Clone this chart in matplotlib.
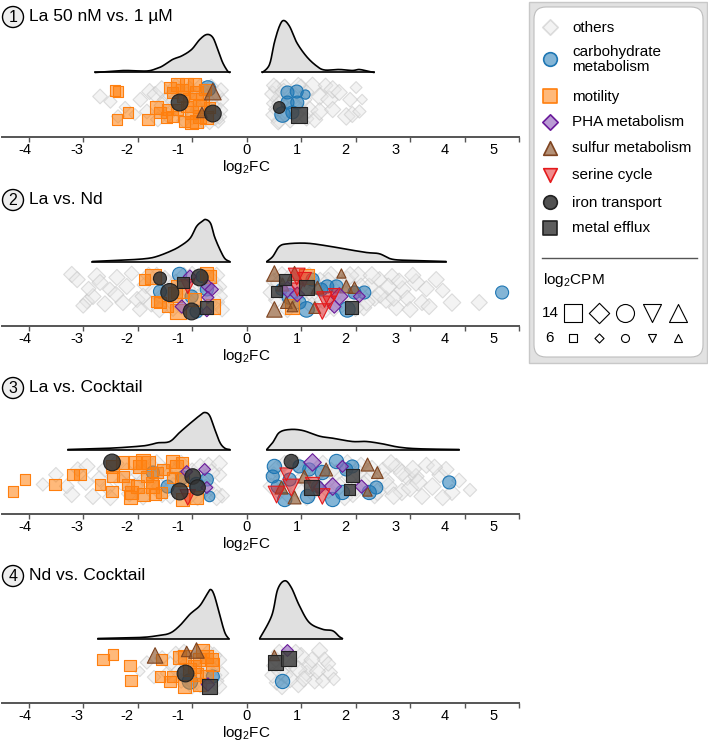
import numpy as np
import matplotlib
matplotlib.use('Agg')
import matplotlib.pyplot as plt
from matplotlib.patches import FancyBboxPatch, Rectangle, Circle

plt.rcParams['font.family'] = ['Liberation Sans', 'DejaVu Sans']
plt.rcParams['mathtext.default'] = 'regular'

# ---------------- data ----------------
TITLES = ['La 50 nM vs. 1 µM', 'La vs. Nd', 'La vs. Cocktail', 'Nd vs. Cocktail']
TICK_VALUES = [-4, -3, -2, -1, 0, 1, 2, 3, 4, 5]
TICK_LABELS = ['-4', '-3', '-2', '-1', '0', '1', '2', '3', '4', '5']
TICK_LABEL_POS = [-4.07, -3.11, -2.20, -1.26, 0.0, 0.92, 1.81, 2.73, 3.63, 4.54]
CATEGORIES = ['others', 'carbohydrate\nmetabolism', 'motility', 'PHA metabolism',
              'sulfur metabolism', 'serine cycle', 'iron transport', 'metal efflux']
SIZE_LEGEND = [14, 6]

# density curves (x = log2FC, y = relative density)
D1N_X = [-2.78, -2.38, -2.20, -1.83, -1.65, -1.54, -1.36, -1.19, -1.01, -0.86, -0.73, -0.62, -0.53, -0.44, -0.35, -0.31]
D1N_Y = [0, 1.6, 2, 1.5, 4, 6.6, 13, 16.6, 23, 33, 38, 35, 23, 10, 1.5, 0]
D1P_X = [0.29, 0.42, 0.51, 0.60, 0.68, 0.79, 0.92, 1.10, 1.28, 1.43, 1.70, 1.94, 2.07, 2.25, 2.34]
D1P_Y = [0, 8, 30, 46, 52, 46, 30, 16, 6.7, 2.5, 3, 2, 3, 1, 0]
D2N_X = [-2.83, -2.14, -1.83, -1.65, -1.41, -1.23, -1.04, -0.92, -0.82, -0.75, -0.66, -0.59, -0.49, -0.40, -0.31]
D2N_Y = [0, 1.7, 3, 5, 10, 15, 23, 35, 40, 42, 38, 25, 12, 3, 0]
D2P_X = [0.37, 0.48, 0.60, 0.75, 1.10, 1.47, 1.83, 2.20, 2.44, 2.67, 3.04, 3.66]
D2P_Y = [0, 5, 15, 17.7, 18.3, 15.7, 12.3, 9, 7.7, 2.3, 1, 0]
D3N_X = [-3.28, -2.51, -1.96, -1.78, -1.63, -1.41, -1.23, -1.04, -0.86, -0.77, -0.68, -0.59, -0.49, -0.40, -0.31]
D3N_Y = [0, 1.3, 3.3, 4.7, 6.7, 8, 17, 26, 34, 37, 34, 21, 7, 1.3, 0]
D3P_X = [0.37, 0.48, 0.60, 0.79, 1.03, 1.34, 1.58, 1.94, 2.20, 2.49, 2.80, 3.17, 3.90]
D3P_Y = [0, 7, 17, 20, 19, 13.3, 11.3, 8, 8, 5.7, 2.3, 0.7, 0]
D4N_X = [-2.73, -1.96, -1.65, -1.41, -1.23, -1.04, -0.86, -0.73, -0.66, -0.59, -0.49, -0.40, -0.33]
D4N_Y = [0, 1, 2.7, 5.3, 12.7, 24.3, 32.7, 44, 49, 42.7, 22.7, 6, 0]
D4P_X = [0.24, 0.46, 0.57, 0.70, 0.82, 0.97, 1.15, 1.39, 1.58, 1.70, 1.76]
D4P_Y = [0, 22.7, 49, 57.7, 51, 32.7, 16, 9.3, 7.7, 2, 0]

# genes: (log2FC, jitter, log2CPM)
OTH1 = [(-2.69,0.37,10),(-2.36,-0.68,9),(-2.05,-0.58,8),(-2.23,-0.20,8),(-1.83,-0.42,10),(-1.78,0.63,11),(-1.68,0.47,11),(-1.56,0.74,12),(-1.63,-0.84,10),(-1.50,0.20,10),(-1.40,0.40,10),(-1.30,0.90,11),(-1.20,-0.50,10),(-1.15,-0.90,10),(-1.05,0.80,10),(-0.95,0.30,11),(-0.90,-0.30,10),(-0.80,-0.90,11),(-0.75,0.60,11),(-0.70,0.10,12),(-0.65,0.90,10),(-0.60,-0.20,11),(-0.55,0.50,10),(-0.52,-0.95,9),(-0.50,-0.70,10),(-0.45,0.20,9),
        (-1.45,-0.60,11),(-1.35,0.10,11),(-1.25,0.60,12),(-1.10,0.45,11),(-1.00,-0.70,11),(-0.85,0.85,12),(-0.85,-0.45,12),(-0.72,-0.55,12),(-0.62,0.35,12),(-0.58,-0.75,11),(-0.48,-0.35,10),(-0.47,0.70,10),(-0.68,-0.95,11),(-1.55,-0.10,11),(-2.50,0.10,9),(-1.95,0.20,10),
        (0.50,0.00,10),(0.55,0.80,11),(0.55,-0.30,11),(0.60,0.30,11),(0.60,-0.90,11),(0.70,0.90,10),(0.80,-0.90,10),(1.00,0.90,10),(1.00,-0.30,10),(1.10,-0.80,10),(1.15,-0.32,12),(1.21,0.89,13),(1.25,-0.85,11),(1.34,0.37,12),(1.34,-0.42,12),(1.45,0.95,10),(1.52,0.21,12),(1.58,0.74,12),(1.58,-0.32,11),(1.70,0.58,11),(1.83,-0.68,12),(1.90,0.20,10),(1.94,-0.58,11),(2.01,0.84,8),(2.07,-0.42,9),(2.12,0.21,7),
        (0.48,0.50,11),(0.50,-0.60,11),(0.62,0.00,12),(0.68,0.60,12),(0.70,-0.55,12),(0.85,0.30,12),(0.90,-0.60,11),(0.95,0.95,11),(1.05,0.20,11),(1.10,0.60,10),(0.50,0.95,10),(0.58,-1.00,10),(0.88,-0.10,12)]
CARB1 = [(-0.71,0.79,12),(0.75,0.58,10),(0.92,0.63,10),(1.08,0.47,7),(0.75,0.05,10),(0.93,0.05,10),(0.66,-0.58,12),(0.84,-0.47,10)]
MOT1 = [(-2.42,0.68,8),(-2.36,0.63,8),(-2.38,-0.84,8),(-2.18,-0.47,8),(-1.81,-0.84,9),(-1.65,-0.21,10),(-1.59,-0.47,9),(-1.47,-0.74,9),(-1.41,0.84,9),(-1.36,0.58,9),(-1.26,1.0,10),(-1.19,0.74,9),(-1.10,1.0,10),(-0.95,1.0,10),(-0.92,0.58,10),(-1.04,0.21,10),(-1.10,-0.16,9),(-1.01,-0.47,10),(-0.86,-0.68,10),(-0.92,-0.95,10),(-0.81,0.21,10),(-1.28,-0.32,9),(-1.45,-0.32,9),(-1.36,-0.68,9),(-0.86,-0.16,10),(-0.73,-0.74,10),(-1.14,-0.95,9),(-1.01,-1.0,10),(-0.77,0.74,9),(-0.68,-0.21,9),(-1.17,0.37,9)]
PHA1 = []
SULF1 = [(-0.62,0.63,13),(-0.82,-0.47,8)]
SER1 = []
IRON1 = [(-1.23,0.05,13),(-0.62,-0.53,13),(0.60,-0.21,9)]
METAL1 = [(0.97,-0.58,12)]

OTH2 = [(-3.21,0.95,11),(-3.11,0.68,11),(-2.93,-0.47,10),(-2.82,-0.21,11),(-2.75,0.84,12),(-2.69,0.53,11),(-2.38,0.79,11),(-2.51,0.16,10),(-2.20,0.32,11),(-2.01,-0.37,11),(-1.96,-0.89,10),(-2.27,-0.53,11),(-2.11,1.0,10),(-1.85,0.40,12),(-1.75,-0.60,11),(-1.65,0.90,11),(-1.55,-0.20,12),(-1.45,0.50,11),(-1.35,-0.80,12),(-1.25,0.20,11),(-1.15,0.90,11),(-1.05,-0.50,12),(-0.95,0.40,11),(-0.85,-0.90,11),(-0.75,0.00,12),(-0.65,0.70,11),(-0.55,-0.50,11),(-0.50,0.30,10),(-0.45,-0.90,10),
        (-1.90,-0.20,11),(-1.80,0.90,11),(-1.70,0.10,12),(-1.60,-0.90,11),(-1.50,0.70,12),(-1.40,-0.40,12),(-1.30,0.50,12),(-1.20,-0.70,12),(-1.10,0.20,12),(-1.00,0.95,11),(-0.90,-0.30,12),(-0.80,0.50,12),(-0.70,-0.60,12),(-0.60,0.20,12),(-0.55,0.90,11),(-0.50,-0.20,11),(-2.60,-0.60,11),(-2.40,-0.10,11),(-2.90,0.20,10),(-3.00,-0.70,10),
        (0.50,0.60,11),(0.55,-0.40,11),(0.65,0.90,12),(0.75,-0.90,11),(0.90,0.30,12),(1.00,-0.40,11),(1.15,0.90,11),(1.25,-0.20,12),(1.35,0.60,12),(1.45,-0.90,11),(1.55,0.95,11),(1.65,0.00,12),(1.75,-0.60,12),(1.85,0.70,11),(1.95,-0.30,12),(2.05,0.90,12),(2.15,-0.80,11),(2.25,0.30,12),(2.35,-0.30,11),(2.44,0.68,11),(2.56,-0.37,12),(2.67,0.84,11),(2.75,-0.80,11),(2.86,0.16,12),(2.95,-0.30,11),(3.11,0.53,12),(3.22,-0.53,11),(3.35,-0.74,11),(3.48,0.68,11),(3.60,0.10,10),(3.77,-0.53,12),(4.27,-0.53,11),
        (0.45,0.00,11),(0.60,0.50,12),(0.70,-0.10,12),(0.80,0.80,12),(0.85,-0.50,12),(1.05,0.10,12),(1.10,0.60,12),(1.20,-0.70,12),(1.30,0.30,12),(1.40,-0.40,12),(1.50,0.60,12),(1.60,-0.80,12),(1.70,0.40,12),(1.80,-0.10,12),(1.90,0.90,12),(2.00,-0.80,12),(2.10,0.30,12),(2.20,-0.50,12),(2.30,0.90,12),(2.45,-0.10,12),(2.60,0.30,12),(2.70,-0.30,11),(2.80,0.60,11),(3.00,-0.90,11),(3.05,0.90,11),(3.30,0.20,11)]
CARB2 = [(-1.59,0.05,10),(-1.23,0.95,11),(-1.01,-0.21,10),(-0.82,0.84,9),(-0.73,0.16,10),(-0.92,-1.0,10),(0.79,-0.21,12),(0.97,-0.53,10),(1.10,-0.89,12),(1.37,0.16,10),(1.48,0.32,10),(1.65,0.32,10),(1.85,-0.89,12),(1.98,0.0,10),(2.16,0.0,10),(1.21,0.68,10),(4.69,0.0,10),(0.64,0.16,9)]
MOT2 = [(-1.87,0.68,8),(-1.72,0.84,12),(-1.65,-0.47,8),(-1.59,-0.53,9),(-1.45,-0.74,9),(-1.26,-1.0,12),(-0.73,1.0,10),(-0.68,0.84,10),(-0.62,-0.74,11),(-1.23,0.16,14),(-1.32,-0.10,11),(-0.95,-0.37,10),(0.84,-0.74,11),(1.10,0.84,11)]
PHA2 = [(-1.04,0.84,9),(-0.71,0.32,9),(-0.64,0.16,9),(-0.71,-0.26,8),(-1.19,-0.74,9),(-0.73,-1.0,7),(0.75,0.16,11),(0.93,-0.10,10),(1.70,-0.21,12),(1.61,-0.74,9),(2.07,-0.21,8)]
SULF2 = [(0.51,1.0,12),(0.88,1.0,11),(0.51,-0.89,12),(0.73,-0.53,9),(0.84,-0.74,8),(1.30,0.26,10),(1.25,-0.79,9),(1.74,1.0,7),(1.83,0.32,10),(1.98,0.26,9),(0.66,0.42,10)]
SER2 = [(-1.08,0.32,11),(0.92,0.84,13),(1.06,0.68,11),(0.93,0.16,10),(1.43,-0.37,12),(1.39,-1.0,12),(1.52,-0.53,10),(1.61,-0.10,9)]
IRON2 = [(-1.41,0.0,14),(-0.86,0.79,13),(-1.01,-1.0,13),(-1.59,0.74,10)]
METAL2 = [(-0.73,-0.79,10),(0.55,0.05,9),(0.70,0.68,9),(1.10,0.26,12),(1.92,-0.79,10),(-1.17,0.53,9)]

OTH3 = [(-3.74,-0.21,9),(-3.50,0.30,10),(-3.21,-0.74,11),(-3.10,0.60,10),(-2.93,0.74,11),(-2.82,-0.84,11),(-2.70,0.10,11),(-2.55,-0.40,10),(-2.40,0.90,11),(-2.30,-0.10,11),(-2.15,-0.70,11),(-2.00,0.40,11),(-1.90,-0.90,10),(-1.75,0.80,11),(-1.60,-0.30,11),(-1.50,0.50,11),(-1.40,-0.80,11),(-1.30,0.10,12),(-1.20,0.90,11),(-1.10,-0.40,12),(-1.00,0.50,11),(-0.90,-0.90,11),(-0.80,0.10,12),(-0.70,0.80,11),(-0.60,-0.50,11),(-0.50,0.30,10),(-0.45,-0.80,10),
        (-3.30,-0.30,10),(-2.95,-0.10,11),(-2.60,0.60,11),(-2.50,-0.90,11),(-2.20,0.50,11),(-2.05,-0.30,11),(-1.85,0.10,12),(-1.65,0.90,12),(-1.55,-0.70,12),(-1.45,0.20,12),(-1.35,-0.30,12),(-1.25,0.60,12),(-1.05,-0.80,12),(-0.95,0.20,12),(-0.85,0.70,12),(-0.75,-0.40,12),(-0.65,0.40,12),(-0.55,-0.90,11),(-0.50,0.90,11),
        (0.50,0.30,11),(0.60,-0.60,11),(0.70,0.90,11),(0.85,-0.20,12),(1.00,0.60,11),(1.10,-0.90,11),(1.25,0.20,12),(1.40,0.90,11),(1.50,-0.50,12),(1.65,0.40,12),(1.80,-0.90,11),(1.90,0.20,12),(2.00,-0.40,12),(2.10,0.80,11),(2.25,0.10,12),(2.35,-0.80,11),(2.50,0.50,12),(2.60,-0.30,12),(2.75,0.74,11),(2.85,-0.60,12),(2.95,0.20,12),(3.11,0.21,11),(3.22,-0.84,11),(3.30,0.80,11),(3.41,-0.32,12),(3.55,0.30,11),(3.66,0.58,11),(3.77,-0.63,11),(3.90,0.00,10),(4.10,-0.50,9),
        (0.45,-0.30,11),(0.55,0.60,12),(0.65,0.10,12),(0.75,-0.70,12),(0.90,0.90,12),(0.95,-0.50,12),(1.05,0.20,12),(1.20,-0.60,12),(1.30,0.60,12),(1.45,-0.10,12),(1.55,0.50,12),(1.70,-0.30,12),(1.85,0.90,12),(1.95,-0.70,12),(2.05,0.40,12),(2.15,-0.20,12),(2.30,0.60,12),(2.40,-0.60,12),(2.55,0.00,12),(2.65,0.90,12),(2.70,-0.80,12),(2.85,0.40,12),(3.00,-0.40,12),(3.05,0.60,12),(3.15,-0.10,12),(3.45,0.70,11),(3.60,-0.90,11)]
CARB3 = [(-1.72,0.42,10),(-1.45,-0.32,10),(-1.17,0.16,10),(-0.68,-0.84,8),(-0.73,0.05,10),(-0.92,-0.21,11),(0.51,0.74,11),(0.48,0.21,10),(0.57,-0.32,10),(0.70,-1.0,11),(0.97,0.74,10),(1.15,0.58,10),(1.12,-0.84,11),(1.39,0.42,11),(1.65,1.0,11),(1.83,0.58,10),(1.58,-1.0,11),(1.76,-0.63,11),(2.25,-0.63,11),(2.38,-0.37,10),(3.72,-0.10,10),(1.94,0.74,10),(0.79,0.05,10),(1.30,-0.32,9)]
MOT3 = [(-4.29,-0.58,8),(-4.07,0.05,8),(-3.52,-0.21,9),(-3.19,0.32,9),(-3.06,0.32,9),(-2.69,-0.21,8),(-2.47,0.74,10),(-2.45,0.21,9),(-2.47,-0.58,9),(-2.27,0.95,10),(-2.27,0.21,9),(-2.18,-0.21,9),(-2.11,-0.63,10),(-2.14,-0.89,10),(-2.05,0.95,10),(-1.96,0.74,10),(-1.90,1.0,11),(-1.81,0.95,10),(-2.01,-0.32,10),(-1.90,-0.74,10),(-1.83,0.21,9),(-1.72,-0.32,10),(-1.68,-0.74,9),(-1.65,0.42,9),(-1.56,-0.63,9),(-1.36,1.0,10),(-1.28,0.74,10),(-1.19,0.95,9),(-1.36,0.16,9),(-1.19,0.05,10),(-1.17,-1.0,10),(-1.54,0.58,9),(-1.74,-0.10,9),(-0.92,-0.89,10)]
PHA3 = [(-1.10,0.47,8),(-0.77,0.58,8),(-0.73,-0.37,8),(1.21,0.95,12),(1.76,0.74,8),(1.58,-0.32,12),(1.34,-0.37,9),(2.11,-0.32,9)]
SULF3 = [(1.46,0.58,10),(1.06,0.21,10),(2.22,0.84,10),(2.40,0.42,9),(0.64,-0.37,10),(0.88,-0.89,10),(2.22,-0.58,7)]
SER3 = [(-1.08,-0.89,12),(0.55,-0.74,13),(0.73,0.32,10),(0.82,-0.37,13),(1.21,-0.21,11),(1.39,-0.84,12)]
IRON3 = [(-2.47,0.95,13),(-0.99,0.21,12),(-1.23,-0.58,13),(-0.90,-0.37,12),(0.82,1.0,11)]
METAL3 = [(1.94,0.26,10),(1.19,-0.37,11),(1.89,-0.47,9)]

OTH4 = [(-1.96,-0.10,7),(-1.83,0.37,9),(-1.70,-0.40,9),(-1.55,0.60,10),(-1.45,-0.20,10),(-1.30,0.80,11),(-1.20,-0.60,10),(-1.10,0.30,11),(-1.00,-0.90,10),(-0.90,0.60,11),(-0.80,-0.30,11),(-0.70,0.90,11),(-0.65,0.10,11),(-0.55,-0.60,10),(-0.50,0.50,10),(-0.45,-0.20,9),
        (-1.40,0.30,10),(-1.25,-0.10,11),(-1.15,0.90,11),(-1.05,-0.50,11),(-0.95,0.50,11),(-0.85,-0.80,11),(-0.75,0.20,11),(-0.60,0.75,11),(-0.60,-0.30,11),(-0.50,-0.90,10),
        (0.50,0.20,10),(0.55,-0.70,10),(0.60,0.90,11),(0.70,-0.30,11),(0.85,0.30,11),(0.95,-0.80,11),(1.00,0.70,12),(1.10,-0.20,11),(1.15,0.16,11),(1.25,-0.60,11),(1.34,1.0,11),(1.43,0.53,10),(1.52,-0.16,11),(1.60,-0.50,9),
        (0.48,-0.30,11),(0.55,0.50,11),(0.62,-0.10,12),(0.65,-0.90,11),(0.75,0.40,11),(0.80,-0.50,12),(0.90,0.90,11),(0.95,0.00,12),(1.05,-0.50,11),(1.20,0.50,11),(1.30,-0.10,11),(1.40,-0.60,10),(1.50,0.30,10)]
CARB4 = [(-1.04,-0.63,12),(-0.62,-0.37,10),(0.66,-0.63,11)]
MOT4 = [(-2.64,0.53,9),(-2.45,0.79,8),(-2.14,0.21,9),(-2.12,-0.58,9),(-1.56,0.53,9),(-1.59,-0.37,8),(-1.41,-0.63,9),(-1.36,-0.37,9),(-1.23,0.63,10),(-1.14,0.68,10),(-0.95,0.16,10),(-0.86,0.53,10),(-0.73,0.68,10),(-0.64,0.53,10),(-0.92,-0.26,10),(-0.86,-0.79,10),(-1.14,-0.89,10),(-0.73,-0.37,10),(-0.62,0.26,10),(-1.04,0.0,10),(-0.81,1.0,10)]
PHA4 = [(-0.71,-0.79,9),(0.75,1.0,8)]
SULF4 = [(-1.68,0.74,12),(-1.10,0.95,8),(-0.92,1.0,12),(0.51,0.74,8)]
SER4 = []
IRON4 = [(-1.14,-0.16,13)]
METAL4 = [(-0.68,-0.89,12),(0.53,0.37,11),(0.77,0.58,11)]

# ---------------- styles / layout ----------------
STYLES = [
    dict(marker='D', fc=(0.90, 0.90, 0.90, 0.45), ec=(0.78, 0.78, 0.78, 0.6), z=2),
    dict(marker='o', fc=(0.12, 0.47, 0.71, 0.55), ec='#1f77b4', z=3),
    dict(marker='s', fc=(1.0, 0.50, 0.05, 0.55), ec='#ff7f0e', z=3.1),
    dict(marker='D', fc=(0.58, 0.40, 0.74, 0.65), ec='#6a1b9a', z=3.5),
    dict(marker='^', fc=(0.55, 0.34, 0.18, 0.65), ec='#7f4420', z=3.4),
    dict(marker='v', fc=(0.89, 0.10, 0.11, 0.5), ec='#e41a1c', z=3.6),
    dict(marker='o', fc=(0.2, 0.2, 0.2, 0.85), ec='#222222', z=3.7),
    dict(marker='s', fc=(0.25, 0.25, 0.25, 0.85), ec='#222222', z=3.8),
]
PANEL_DATA = [
    [OTH1, CARB1, MOT1, PHA1, SULF1, SER1, IRON1, METAL1],
    [OTH2, CARB2, MOT2, PHA2, SULF2, SER2, IRON2, METAL2],
    [OTH3, CARB3, MOT3, PHA3, SULF3, SER3, IRON3, METAL3],
    [OTH4, CARB4, MOT4, PHA4, SULF4, SER4, IRON4, METAL4],
]
DENS = [((D1N_X, D1N_Y), (D1P_X, D1P_Y)), ((D2N_X, D2N_Y), (D2P_X, D2P_Y)),
        ((D3N_X, D3N_Y), (D3P_X, D3P_Y)), ((D4N_X, D4N_Y), (D4P_X, D4P_Y))]

W, H = 708, 742
AXIS_PX = [137, 326, 514, 703]
TITLE_PX = [17, 200, 388, 576]
AX_L, AX_R, AX_H = 2, 519, 130
XLIM = (-4.49, 5.0)
PT_C, PT_HALF = 33.5, 19
DENS_BASE = 64.5


def size_px(cpm):
    return 8 + (np.asarray(cpm, float) - 6) * 10 / 8


def marker_area(marker, cpm):
    pt = size_px(cpm) * 0.72
    if marker == 'D':
        pt = pt * 0.8
    return pt ** 2


def catmull(xs, ys, n=12):
    xs = np.asarray(xs, float); ys = np.asarray(ys, float)
    P = np.column_stack([xs, ys])
    P = np.vstack([P[0], P, P[-1]])
    out = []
    for i in range(1, len(P) - 2):
        p0, p1, p2, p3 = P[i - 1], P[i], P[i + 1], P[i + 2]
        t = np.linspace(0, 1, n, endpoint=False)[:, None]
        pts = 0.5 * ((2 * p1) + (-p0 + p2) * t + (2 * p0 - 5 * p1 + 4 * p2 - p3) * t ** 2
                     + (-p0 + 3 * p1 - 3 * p2 + p3) * t ** 3)
        out.append(pts)
    out.append(P[-2][None, :])
    out = np.vstack(out)
    out[:, 1] = np.clip(out[:, 1], 0, None)
    return out[:, 0], out[:, 1]


fig = plt.figure(figsize=(W / 100, H / 100), dpi=100)

# overlay axes in pixel coordinates
ov = fig.add_axes([0, 0, 1, 1])
ov.set_xlim(0, W); ov.set_ylim(H, 0); ov.axis('off'); ov.patch.set_visible(False)

for p in range(4):
    ax = fig.add_axes([AX_L / W, 1 - AXIS_PX[p] / H, (AX_R - AX_L) / W, AX_H / H])
    ax.patch.set_visible(False)
    ax.set_xlim(*XLIM); ax.set_ylim(0, AX_H)
    for s in ['left', 'right', 'top']:
        ax.spines[s].set_visible(False)
    ax.spines['bottom'].set_color('#555555'); ax.spines['bottom'].set_linewidth(1.4)
    ax.set_yticks([])
    ax.xaxis.remove_overlapping_locs = False
    ax.set_xticks(TICK_VALUES, [''] * len(TICK_VALUES))
    ax.tick_params(axis='x', which='major', length=3.5, width=1, color='#555555', direction='out')
    ax.set_xticks(TICK_LABEL_POS, TICK_LABELS, minor=True)
    ax.tick_params(axis='x', which='minor', length=0, pad=4.5, labelsize=10.5)
    ax.text(0, -30, 'log$_2$FC', ha='center', va='center', fontsize=11, clip_on=False)

    # densities
    for dx, dy in DENS[p]:
        sx, sy = catmull(dx, dy)
        ax.fill_between(sx, DENS_BASE, DENS_BASE + sy, color='#e0e0e0', lw=0, zorder=1)
        ax.plot(sx, DENS_BASE + sy, color='black', lw=1.2, zorder=1.5, solid_capstyle='round')
        ax.plot([sx[0], sx[-1]], [DENS_BASE, DENS_BASE], color='black', lw=1.2, zorder=1.5)

    # genes
    for ci, pts in enumerate(PANEL_DATA[p]):
        if not pts:
            continue
        arr = np.array(pts, float)
        st = STYLES[ci]
        ax.scatter(arr[:, 0], PT_C + PT_HALF * arr[:, 1], s=marker_area(st['marker'], arr[:, 2]),
                   marker=st['marker'], facecolors=[st['fc']], edgecolors=[st['ec']],
                   linewidths=0.8, zorder=st['z'], clip_on=False)

    # title
    ty = TITLE_PX[p]
    ov.add_patch(Circle((13, ty), 10.5, fc='#eeeeee', ec='black', lw=1))
    ov.text(13, ty + 0.5, str(p + 1), ha='center', va='center', fontsize=11.5)
    ov.text(29, ty, TITLES[p], ha='left', va='center', fontsize=12.5)

# legend box
ov.add_patch(Rectangle((529, 2), 178, 361, fc='#e2e2e2', ec='#c8c8c8', lw=1))
ov.add_patch(FancyBboxPatch((542, 15), 153, 334, boxstyle='round,pad=8,rounding_size=12',
                            fc='white', ec='#bdbdbd', lw=0.8))
LEG_Y = [27, 59, 96, 122, 148, 175, 202, 228]
for ci, name in enumerate(CATEGORIES):
    st = STYLES[ci]
    ov.scatter([550], [LEG_Y[ci]], s=marker_area(st['marker'], 10.5), marker=st['marker'],
               facecolors=[st['fc']], edgecolors=[st['ec']], linewidths=1.2, zorder=5)
    ov.text(572, LEG_Y[ci] + 0.5, name, ha='left', va='center', fontsize=11, linespacing=1.1)
ov.plot([542, 697], [258, 258], color='#555555', lw=1)
ov.text(543, 280, 'log$_2$CPM', ha='left', va='center', fontsize=11)
SIZE_Y = [313, 338]
LEG_MARKERS = [('s', 573), ('D', 599), ('o', 625), ('v', 652), ('^', 678)]
for cpm, yy in zip(SIZE_LEGEND, SIZE_Y):
    ov.text(550, yy, str(cpm), ha='center', va='center', fontsize=11)
    for mk, xx in LEG_MARKERS:
        ov.scatter([xx], [yy], s=marker_area(mk, cpm), marker=mk, facecolors='white',
                   edgecolors='black', linewidths=0.8, zorder=5)

fig.savefig('out.png', dpi=100)
